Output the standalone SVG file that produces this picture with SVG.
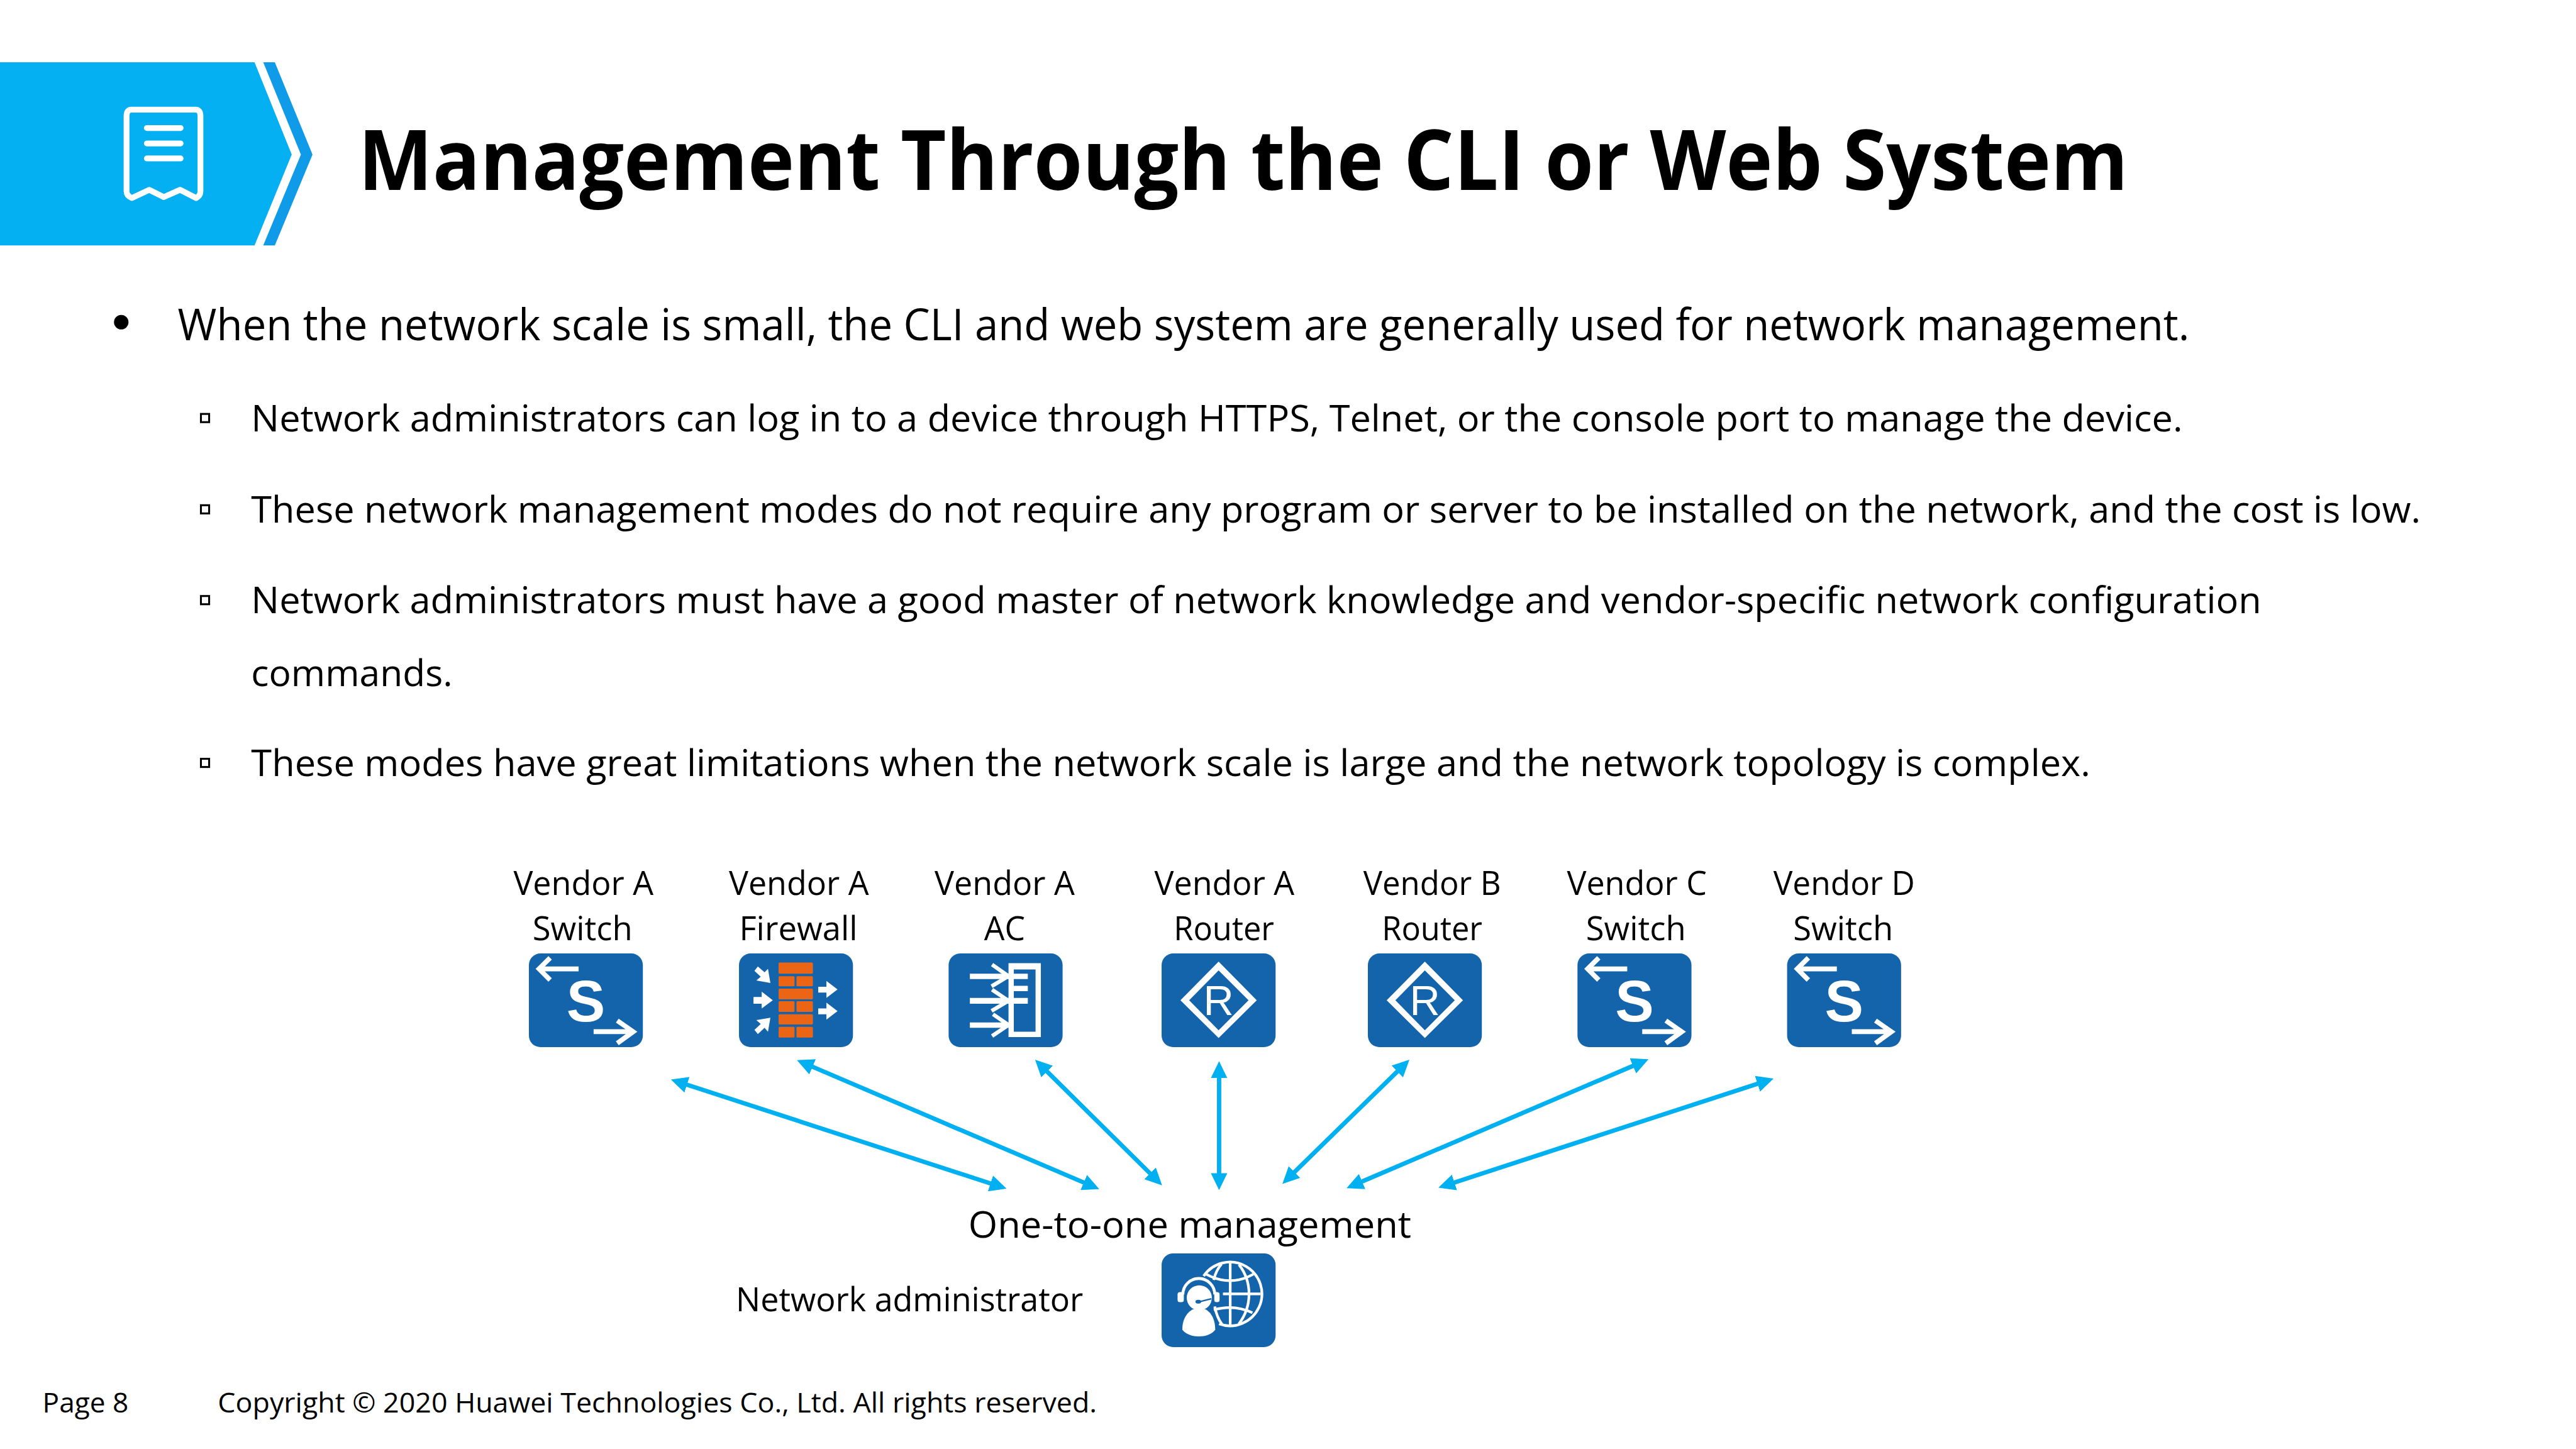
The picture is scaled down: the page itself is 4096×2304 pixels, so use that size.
<svg xmlns="http://www.w3.org/2000/svg" xmlns:xlink="http://www.w3.org/1999/xlink" width="4096" height="2304" viewBox="0 0 4096 2304">
<style>
text{font-family:"Open Sans","Noto Sans","Liberation Sans",sans-serif;fill:#000}
.title{font-size:172px;font-weight:700}
.b1{font-size:90px}
.b2{font-size:77px}
.lab{font-size:68px;text-anchor:middle}
.foot{font-size:58px}
.iconS{font-family:"Liberation Sans",Arial,sans-serif;font-weight:700;font-size:120px;fill:#fff;text-anchor:middle}
.iconR{font-family:"Liberation Sans",Arial,sans-serif;font-size:87px;fill:#fff;text-anchor:middle}
.tile{fill:#1464AB}
.wl{fill:none;stroke:#fff}
.wf{fill:#fff}
.brick{fill:#EB6515}
.sq{fill:none;stroke:#000;stroke-width:4}
.conn{stroke:#00B0F0;stroke-width:9;fill:none;marker-start:url(#ah);marker-end:url(#ah)}
</style>
<defs>
<marker id="ah" markerUnits="userSpaceOnUse" viewBox="0 -17 35 34" markerWidth="35" markerHeight="34" refX="2" refY="0" orient="auto-start-reverse"><path d="M0,-17L35,0L0,17Z" fill="#00B0F0"/></marker>
<rect id="tile" class="tile" width="236" height="194" rx="24" ry="24"/>
<g id="swArrows">
<path class="wl" stroke-width="10" d="M103,32H22M44,9L21,32L44,55"/>
<path class="wl" stroke-width="10" d="M134,162H214M183,139L216,162L183,186"/>
</g>
</defs>
<rect width="4096" height="2304" fill="#fff"/>
<g transform="scale(0.768)">
<g id="header">
<path d="M0,129H527L604,320L527,508H0Z" fill="#05B0F2"/>
<path d="M545,129H569L647,320L569,508H545L623,320Z" fill="#0F9BE8"/>
<path d="M272,227H405Q415,227 415,240V396Q415,405 406,410L373,393L339,408L309,393L273,410Q262,405 262,396V240Q262,227 272,227Z" fill="none" stroke="#fff" stroke-width="12" stroke-linejoin="round"/>
<path d="M304,265H374M304,297H374M304,328H374" fill="none" stroke="#fff" stroke-width="12" stroke-linecap="round"/>
</g>
<text class="title" x="742" y="393" textLength="3664" lengthAdjust="spacingAndGlyphs">Management Through the CLI or Web System</text>
<g id="body-text">
<circle cx="251" cy="667" r="15" fill="#000"/>
<text class="b1" x="368" y="704" textLength="4165" lengthAdjust="spacingAndGlyphs">When the network scale is small, the CLI and web system are generally used for network management.</text>
<rect class="sq" x="416" y="857" width="17" height="17"/>
<text class="b2" x="520" y="893" textLength="3999" lengthAdjust="spacingAndGlyphs">Network administrators can log in to a device through HTTPS, Telnet, or the console port to manage the device.</text>
<rect class="sq" x="416" y="1046" width="17" height="17"/>
<text class="b2" x="520" y="1082" textLength="4492" lengthAdjust="spacingAndGlyphs">These network management modes do not require any program or server to be installed on the network, and the cost is low.</text>
<rect class="sq" x="416" y="1234" width="17" height="17"/>
<text class="b2" x="520" y="1270" textLength="4162" lengthAdjust="spacingAndGlyphs">Network administrators must have a good master of network knowledge and vendor-specific network configuration</text>
<text class="b2" x="520" y="1420" textLength="417" lengthAdjust="spacingAndGlyphs">commands.</text>
<rect class="sq" x="416" y="1571" width="17" height="17"/>
<text class="b2" x="520" y="1607" textLength="3808" lengthAdjust="spacingAndGlyphs">These modes have great limitations when the network scale is large and the network topology is complex.</text>
</g>
<g id="connectors">
<line class="conn" x1="1420.4" y1="2245.2" x2="2052.6" y2="2450.8"/>
<line class="conn" x1="1680.4" y1="2207.9" x2="2245.6" y2="2449.1"/>
<line class="conn" x1="2166.5" y1="2217.2" x2="2382.5" y2="2430.8"/>
<line class="conn" x1="2524" y1="2230" x2="2524" y2="2431"/>
<line class="conn" x1="2894.4" y1="2217" x2="2678.6" y2="2428"/>
<line class="conn" x1="3382.7" y1="2206" x2="2818.3" y2="2447"/>
<line class="conn" x1="3640.6" y1="2243.2" x2="3009.4" y2="2448.8"/>
</g>
<g id="node-a-switch">
<text class="lab" x="1208" y="1853" textLength="290" lengthAdjust="spacingAndGlyphs">Vendor A</text>
<text class="lab" x="1206" y="1947" textLength="207" lengthAdjust="spacingAndGlyphs">Switch</text>
<g transform="translate(1095,1974)"><use href="#tile"/><use href="#swArrows"/><text class="iconS" x="118" y="140">S</text></g>
</g>
<g id="node-a-firewall">
<text class="lab" x="1654" y="1853" textLength="290" lengthAdjust="spacingAndGlyphs">Vendor A</text>
<text class="lab" x="1653" y="1947" textLength="245" lengthAdjust="spacingAndGlyphs">Firewall</text>
<g transform="translate(1530,1974)"><use href="#tile"/>
<g class="brick">
<rect x="82" y="19" width="71" height="23" rx="2"/>
<rect x="82" y="47" width="33" height="21" rx="2"/><rect x="119" y="47" width="34" height="21" rx="2"/>
<rect x="82" y="73" width="71" height="22" rx="2"/>
<rect x="82" y="99" width="33" height="22" rx="2"/><rect x="119" y="99" width="34" height="22" rx="2"/>
<rect x="82" y="126" width="71" height="21" rx="2"/>
<rect x="82" y="152" width="33" height="22" rx="2"/><rect x="119" y="152" width="34" height="22" rx="2"/>
</g>
<g class="wf">
<path d="M164,69H181V57L204,74.500L181,92V81H164Z"/>
<path d="M164,114H181V102L204,119.500L181,137V126H164Z"/>
<path d="M30,90H47V79L70,97L47,114V104H30Z"/>
<path d="M65,61L60,32L53,39L39,27L32,36L45,48L36,56Z"/>
<path d="M65,133L36,138L45,146L32,158L39,167L53,154L60,162Z"/>
</g></g>
</g>
<g id="node-a-ac">
<text class="lab" x="2080" y="1853" textLength="290" lengthAdjust="spacingAndGlyphs">Vendor A</text>
<text class="lab" x="2080" y="1947" textLength="85" lengthAdjust="spacingAndGlyphs">AC</text>
<g transform="translate(1964,1974)"><use href="#tile"/>
<path class="wf" fill-rule="evenodd" d="M124,20H191V173H124ZM135,33V162H180V33Z"/>
<path class="wf" d="M44,42H164V53H44ZM135,67H164V78H135ZM44,92H164V104H44ZM44,143H124V154H44Z"/>
<path class="wl" stroke-width="8" d="M90,23L124,47L89,68M90,75L124,98L89,119M92,126L124,148L90,171"/>
</g>
</g>
<g id="node-a-router">
<text class="lab" x="2535" y="1853" textLength="290" lengthAdjust="spacingAndGlyphs">Vendor A</text>
<text class="lab" x="2534" y="1947" textLength="208" lengthAdjust="spacingAndGlyphs">Router</text>
<g transform="translate(2405,1974)"><use href="#tile"/>
<path class="wf" fill-rule="evenodd" d="M118,17L197,97L118,175L39,97ZM118,35L57,97L118,159L180,97Z"/>
<text class="iconR" x="118" y="127">R</text></g>
</g>
<g id="node-b-router">
<text class="lab" x="2965" y="1853" textLength="285" lengthAdjust="spacingAndGlyphs">Vendor B</text>
<text class="lab" x="2965" y="1947" textLength="208" lengthAdjust="spacingAndGlyphs">Router</text>
<g transform="translate(2832,1974)"><use href="#tile"/>
<path class="wf" fill-rule="evenodd" d="M118,17L197,97L118,175L39,97ZM118,35L57,97L118,159L180,97Z"/>
<text class="iconR" x="118" y="127">R</text></g>
</g>
<g id="node-c-switch">
<text class="lab" x="3389" y="1853" textLength="290" lengthAdjust="spacingAndGlyphs">Vendor C</text>
<text class="lab" x="3387" y="1947" textLength="207" lengthAdjust="spacingAndGlyphs">Switch</text>
<g transform="translate(3266,1974)"><use href="#tile"/><use href="#swArrows"/><text class="iconS" x="118" y="140">S</text></g>
</g>
<g id="node-d-switch">
<text class="lab" x="3818" y="1853" textLength="293" lengthAdjust="spacingAndGlyphs">Vendor D</text>
<text class="lab" x="3816" y="1947" textLength="207" lengthAdjust="spacingAndGlyphs">Switch</text>
<g transform="translate(3700,1974)"><use href="#tile"/><use href="#swArrows"/><text class="iconS" x="118" y="140">S</text></g>
</g>
<g id="node-admin">
<text class="b2" x="2005" y="2562" textLength="917" lengthAdjust="spacingAndGlyphs">One-to-one management</text>
<text class="lab" x="1883" y="2715" textLength="719" lengthAdjust="spacingAndGlyphs">Network administrator</text>
<g transform="translate(2405,2595)"><use href="#tile"/>
<g class="wl" stroke-width="5.500">
<path d="M87,47A66,66 0 1 1 119,146"/>
<path d="M142,20V148M127,84H205"/>
<path d="M160,23Q181,50 181,84Q181,118 160,146"/>
<path d="M124,22Q112,36 108,55M110,110Q114,132 125,147"/>
<path d="M92,43Q142,70 190,43"/>
<path d="M108,117Q150,105 188,123"/>
<path d="M44,85A33,33 0 0 1 110,85" stroke-width="6"/>
</g>
<rect class="wf" x="33" y="80" width="13" height="21" rx="5"/>
<rect class="wf" x="109" y="80" width="11" height="21" rx="5"/>
<circle class="wf" cx="78" cy="92" r="26"/>
<path class="wf" d="M78,113C58,113 43,132 43,156V158C50,168 65,172 77,172C90,172 104,168 111,158C111,132 98,113 78,113Z"/>
<ellipse cx="76" cy="100" rx="6" ry="4" fill="#1464AB"/>
<path d="M78,100L103,94" stroke="#1464AB" stroke-width="3" fill="none"/>
</g>
</g>
<g id="footer">
<text class="foot" x="88" y="2924" textLength="178" lengthAdjust="spacingAndGlyphs">Page 8</text>
<text class="foot" x="451" y="2924" textLength="1820" lengthAdjust="spacingAndGlyphs">Copyright © 2020 Huawei Technologies Co., Ltd. All rights reserved.</text>
</g>
</g>
</svg>
